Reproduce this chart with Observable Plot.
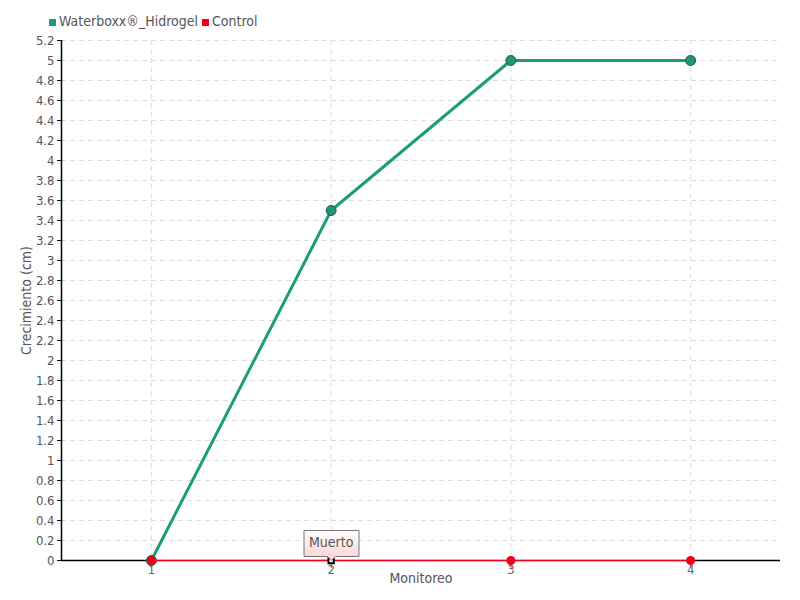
<!DOCTYPE html>
<html>
<head>
<meta charset="utf-8">
<script src="https://cdn.jsdelivr.net/npm/d3@7"></script>
<script src="https://cdn.jsdelivr.net/npm/@observablehq/plot@0.6"></script>
<style>
  html, body { margin: 0; padding: 0; background: #fff; }
  body { width: 800px; height: 600px; overflow: hidden; font-family: "DejaVu Sans Condensed", "Liberation Sans Narrow", "DejaVu Sans", sans-serif; }
  #legend { height: 30px; display: flex; align-items: flex-end; padding-left: 49px; box-sizing: border-box; padding-bottom: 1px; font-size: 14px; color: #555; }
  .item { display: flex; align-items: center; margin-right: 4px; }
  .sw { width: 7px; height: 7px; margin-right: 3px; margin-top: 3px; }
</style>
</head>
<body>
<div id="legend"></div>
<div id="chart"></div>
<script>
// Monitoring rounds and growth (cm) per treatment
const monitoreo = [1, 2, 3, 4];
const waterboxx = [0, 3.5, 5, 5];
const control = [0, 0, 0, 0];
const seriesNames = ["Waterboxx®_Hidrogel", "Control"];
const seriesColors = ["#1b9e77", "#f0001c"];
const yTicks = d3.range(0, 27).map(i => +(i * 0.2).toFixed(1));
// Annotated observation: the control plant died at round 2
const notes = [{x: 2, y: 0, label: "Muerto"}];

const wb = monitoreo.map((m, i) => ({x: m, y: waterboxx[i]}));
const ct = monitoreo.map((m, i) => ({x: m, y: control[i]}));

// Legend
const legend = document.getElementById("legend");
seriesNames.forEach((name, i) => {
  const it = document.createElement("div");
  it.className = "item";
  it.innerHTML = `<span class="sw" style="background:${seriesColors[i]}"></span><span>${name}</span>`;
  legend.appendChild(it);
});

const fontFam = '"DejaVu Sans Condensed", "Liberation Sans Narrow", "DejaVu Sans", sans-serif';

const marks = [
  // dashed grid
  Plot.ruleY(yTicks.filter(d => d > 0), {stroke: "#dcdcdc", strokeDasharray: "5,4", strokeWidth: 1}),
  Plot.ruleX(monitoreo, {stroke: "#dcdcdc", strokeDasharray: "5,4", strokeWidth: 1}),
  // axes
  Plot.axisY(yTicks, {anchor: "left", tickSize: 4, tickFormat: d => String(d), fontSize: 13, color: "#555", stroke: "#000", label: null, tickPadding: 3}),
  Plot.axisX(monitoreo, {anchor: "bottom", tickSize: 8, tickPadding: -4, fontSize: 13, color: "#666", stroke: "#666", label: null, tickFormat: d => String(d)}),
  Plot.ruleX([0.5], {stroke: "#000", strokeWidth: 1.5}),
  Plot.ruleY([0], {stroke: "#000", strokeWidth: 1.5}),
  // Waterboxx series
  Plot.line(wb, {x: "x", y: "y", stroke: seriesColors[0], strokeWidth: 3}),
  Plot.dot(wb, {x: "x", y: "y", r: 5, fill: "#1f957a", stroke: "#1a5e4a", strokeWidth: 1}),
  // Control series
  Plot.line(ct, {x: "x", y: "y", stroke: seriesColors[1], strokeWidth: 1.2}),
  Plot.dot(ct.filter(d => !notes.some(n => n.x === d.x)), {x: "x", y: "y", r: 4.5, fill: seriesColors[1]}),
  Plot.dot(notes, {x: "x", y: "y", symbol: "square", r: 3, fill: "#fff", stroke: "#000", strokeWidth: 2})
];

if (typeof Plot.tip === "function") {
  marks.push(Plot.tip(notes, {x: "x", y: "y", title: "label", anchor: "bottom", pointerSize: 8,
    fill: "url(#tipGrad)", stroke: "#777", pathFilter: "none", fontSize: 14, textPadding: 5}));
} else {
  marks.push(Plot.text(notes, {x: "x", y: "y", text: "label", dy: -20, fontSize: 14, fill: "#444"}));
}

const chart = Plot.plot({
  width: 800,
  height: 570,
  marginTop: 10,
  marginBottom: 40,
  marginLeft: 61,
  marginRight: 20,
  style: {fontFamily: fontFam, fontSize: "14px", color: "#555", background: "#fff"},
  x: {domain: [0.5, 4.5], axis: null},
  y: {domain: [0, 5.2], axis: null},
  marks: [
    ...marks,
    Plot.text(["Monitoreo"], {frameAnchor: "bottom", dy: 22, fontSize: 14, fill: "#555"}),
    Plot.text(["Crecimiento (cm)"], {frameAnchor: "left", textAnchor: "middle", dx: -35, rotate: -90, fontSize: 14, fill: "#555"})
  ]
});

// gradient used by the note box
const defs = d3.select(chart).insert("defs", ":first-child");
const g = defs.append("linearGradient").attr("id", "tipGrad").attr("x1", 0).attr("y1", 0).attr("x2", 0).attr("y2", 1);
g.append("stop").attr("offset", "0%").attr("stop-color", "#ffffff");
g.append("stop").attr("offset", "100%").attr("stop-color", "#fbd0d0");

document.getElementById("chart").appendChild(chart);
</script>
</body>
</html>
